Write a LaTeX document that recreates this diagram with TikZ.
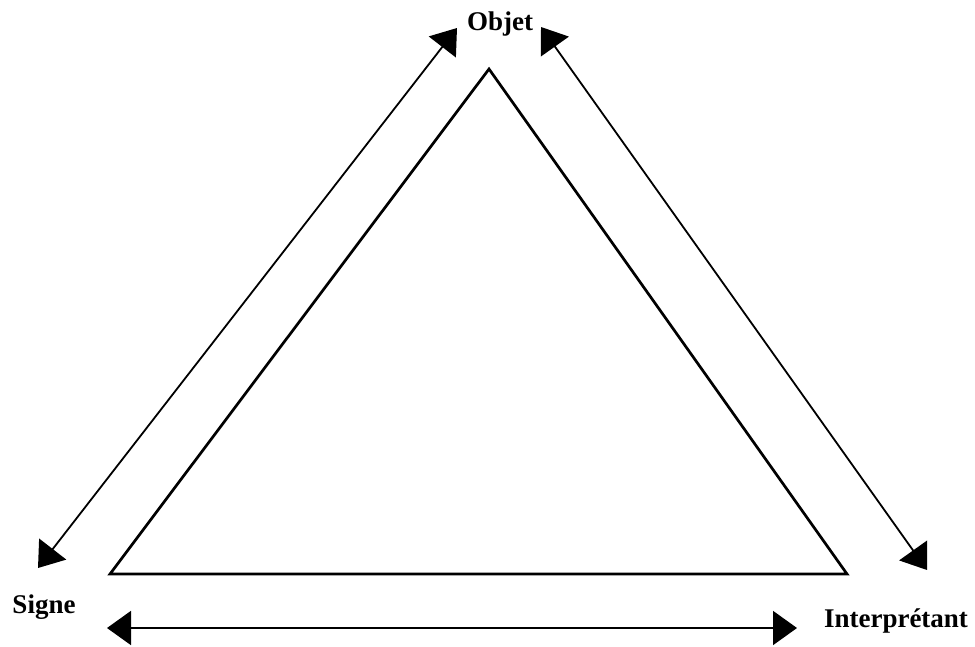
\documentclass[tikz,border=0pt]{standalone}
\usepackage{fontspec}
\setmainfont{Liberation Serif}
\usetikzlibrary{arrows.meta}
\begin{document}
\begin{tikzpicture}[x=1pt,y=-1pt,
  lbl/.style={font=\fontsize{27}{30}\selectfont\bfseries, inner sep=0pt, anchor=base},
  side/.style={line width=2.7pt, line join=miter},
  rel/.style={line width=1.8pt, {Triangle[length=24pt,width=34pt]}-{Triangle[length=24pt,width=34pt]}}]
\useasboundingbox (0,0) rectangle (975,646);
% triangle vertices
\coordinate (vo) at (489,69);
\coordinate (vs) at (110,574);
\coordinate (vi) at (847,574);
\draw[side] (vo) -- (vs) -- (vi) -- cycle;
% labels
\node[lbl] (objet) at (500,30) {Objet};
\node[lbl] (signe) at (44,613) {Signe};
\node[lbl] (interp) at (896,627) {Interprétant};
% arrow ends
\coordinate (sTop) at (457,28);
\coordinate (sBot) at (38,568);
\coordinate (iTop) at (541,27);
\coordinate (iBot) at (927,570);
\coordinate (bL) at (107,628);
\coordinate (bR) at (797,628);
\draw[rel] (sBot) -- (sTop);
\draw[rel] (iTop) -- (iBot);
\draw[rel] (bL) -- (bR);
\end{tikzpicture}
\end{document}
